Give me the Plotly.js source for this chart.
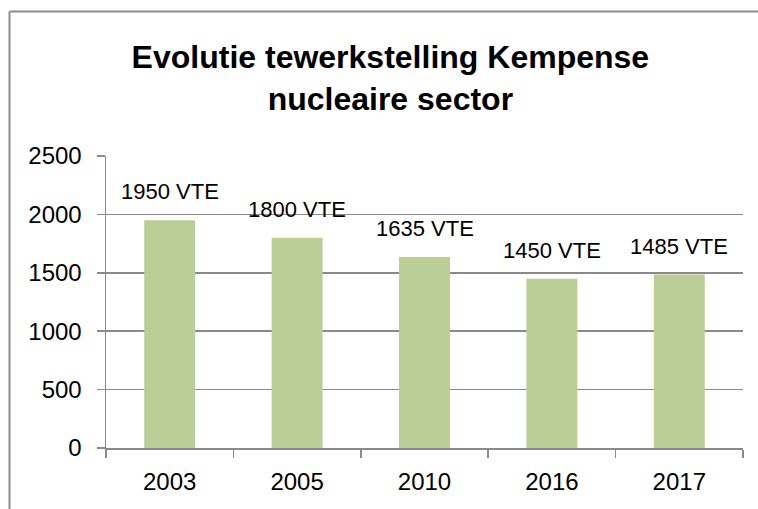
<!DOCTYPE html>
<html>
<head>
<meta charset="utf-8">
<script src="https://cdn.plot.ly/plotly-3.0.1.min.js"></script>
<style>
html,body{margin:0;padding:0;background:#fff;}
#chart{width:758px;height:509px;}
</style>
</head>
<body>
<div id="chart"></div>
<script>
const years = ["2003", "2005", "2010", "2016", "2017"];
const employees = [1950, 1800, 1635, 1450, 1485];
const labelSuffix = " VTE";
const titleLines = ["Evolutie tewerkstelling Kempense", "nucleaire sector"];
const yTicks = [0, 500, 1000, 1500, 2000, 2500];

const W = 758, H = 509;
const margin = {l: 106, r: 15, t: 156, b: 61};
const pw = W - margin.l - margin.r, ph = H - margin.t - margin.b;
// frame (top and left lines of the chart area) in paper coords
const fx = (9.5 - margin.l) / pw;
const fy = 1 + (margin.t - 11.5) / ph;
const fyb = -(margin.b + 5) / ph;
const fxr = 1 + (margin.r + 5) / pw;

const trace = {
  type: "bar",
  x: years,
  y: employees,
  marker: {color: "#bbce96", line: {width: 0}},
  hoverinfo: "skip"
};

const annotations = years.map((yr, i) => ({
  x: i, y: employees[i], xref: "x", yref: "y",
  text: employees[i] + labelSuffix,
  showarrow: false, yanchor: "bottom", yshift: 14,
  font: {family: "Liberation Sans, Arial, sans-serif", size: 22, color: "#000"}
}));

const layout = {
  width: W, height: H,
  margin: margin,
  paper_bgcolor: "#fff", plot_bgcolor: "#fff",
  showlegend: false,
  bargap: 0.6,
  font: {family: "Liberation Sans, Arial, sans-serif", color: "#000"},
  title: {
    text: titleLines.join("<br>"),
    x: 0.515, xref: "container", xanchor: "center",
    y: 1 - 68 / H, yref: "container", yanchor: "top",
    font: {family: "Liberation Sans, Arial, sans-serif", size: 32, weight: "bold", color: "#000"}
  },
  xaxis: {
    type: "category",
    categoryorder: "array", categoryarray: years,
    range: [-0.5, years.length - 0.5],
    showgrid: false,
    showline: true, linecolor: "#8a8a8a", linewidth: 1.5,
    ticks: "outside", tickson: "boundaries", ticklen: 8, tickcolor: "#8a8a8a", tickwidth: 1.5,
    ticklabelstandoff: 12,
    tickangle: 0,
    tickfont: {size: 24, color: "#000"},
    zeroline: false, fixedrange: true
  },
  yaxis: {
    range: [0, 2500],
    tickvals: yTicks,
    showgrid: true, gridcolor: "#8a8a8a", gridwidth: 1.5,
    showline: true, linecolor: "#8a8a8a", linewidth: 1.5,
    ticks: "outside", ticklen: 8, tickcolor: "#8a8a8a", tickwidth: 1.5,
    ticklabelstandoff: 10,
    tickfont: {size: 24, color: "#000"},
    zeroline: false, fixedrange: true
  },
  annotations: annotations,
  shapes: [
    {type: "line", xref: "paper", yref: "paper", x0: fx, x1: fx, y0: fyb, y1: fy, line: {color: "#8c8c8c", width: 2}},
    {type: "line", xref: "paper", yref: "paper", x0: fx, x1: fxr, y0: fy, y1: fy, line: {color: "#8c8c8c", width: 2}}
  ]
};

Plotly.newPlot("chart", [trace], layout, {displayModeBar: false, staticPlot: true});
</script>
</body>
</html>
